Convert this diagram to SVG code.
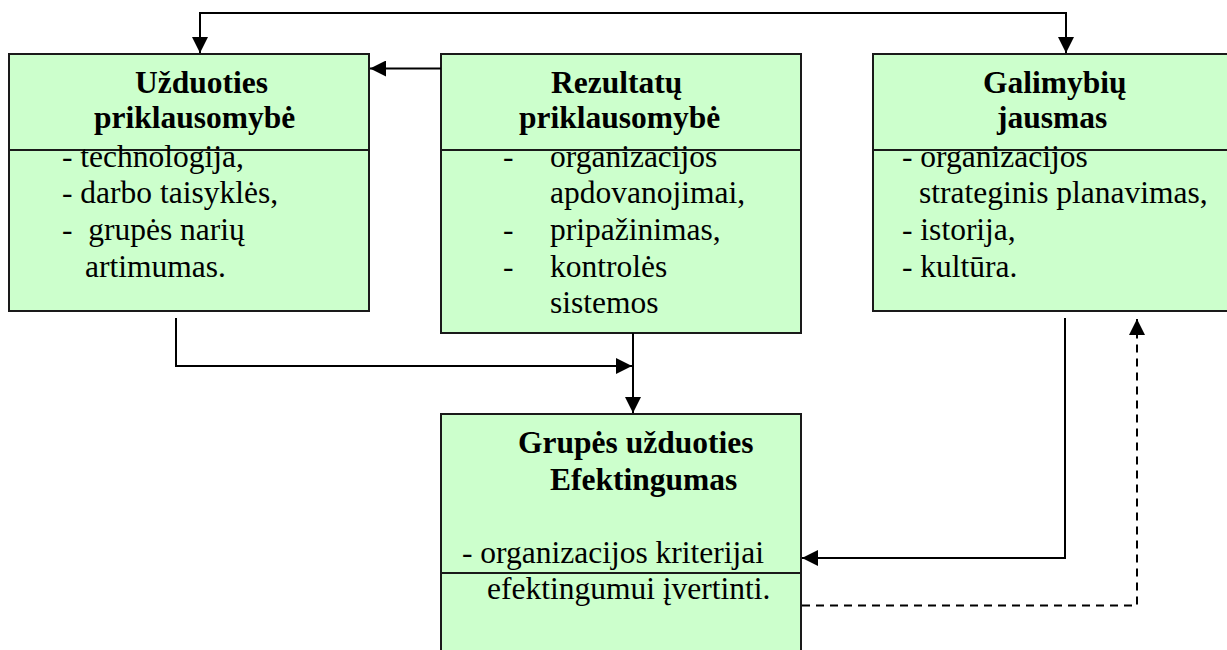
<svg xmlns="http://www.w3.org/2000/svg" width="1227" height="650" viewBox="0 0 1227 650">
<defs>
<style>
.box{fill:#ccffcc;stroke:#1a1a1a;stroke-width:2}
.div{stroke:#1a1a1a;stroke-width:2}
.t{font-family:"Liberation Serif","Times New Roman",serif;font-size:31.5px;font-weight:bold;fill:#000}
.b{font-family:"Liberation Serif","Times New Roman",serif;font-size:31.5px;fill:#000}
.c{fill:none;stroke:#000;stroke-width:2}
.d{fill:none;stroke:#000;stroke-width:2;stroke-dasharray:8,6}
</style>
<marker id="ah" viewBox="0 0 16 16" refX="16" refY="8" markerWidth="16" markerHeight="16" markerUnits="userSpaceOnUse" orient="auto-start-reverse">
<path d="M0,0 L16,8 L0,16 Z" fill="#000"/>
</marker>
</defs>
<rect width="1227" height="650" fill="#fff"/>
<g id="node-uzduoties">
<rect class="box" x="9" y="54" width="360" height="257"/>
<line class="div" x1="9" y1="150" x2="369" y2="150"/>
<text class="t" x="135" y="93">Užduoties</text>
<text class="t" x="94" y="128">priklausomybė</text>
<text class="b" x="62" y="166.5">- technologija,</text>
<text class="b" x="62" y="203">- darbo taisyklės,</text>
<text class="b" x="62" y="240" xml:space="preserve">-  grupės narių</text>
<text class="b" x="85" y="277">artimumas.</text>
</g>
<g id="node-rezultatu">
<rect class="box" x="441" y="54" width="360" height="279"/>
<line class="div" x1="441" y1="150" x2="801" y2="150"/>
<text class="t" x="551" y="93">Rezultatų</text>
<text class="t" x="519" y="128">priklausomybė</text>
<text class="b" x="503" y="166.5">-</text>
<text class="b" x="550" y="166.5">organizacijos</text>
<text class="b" x="550" y="203">apdovanojimai,</text>
<text class="b" x="503" y="240">-</text>
<text class="b" x="550" y="240">pripažinimas,</text>
<text class="b" x="503" y="276.5">-</text>
<text class="b" x="550" y="276.5">kontrolės</text>
<text class="b" x="550" y="313">sistemos</text>
</g>
<g id="node-galimybiu">
<rect class="box" x="873" y="54" width="360" height="257"/>
<line class="div" x1="873" y1="150" x2="1233" y2="150"/>
<text class="t" x="983" y="93">Galimybių</text>
<text class="t" x="997" y="128">jausmas</text>
<text class="b" x="902" y="166.5">- organizacijos</text>
<text class="b" x="919" y="203">strateginis planavimas,</text>
<text class="b" x="902" y="240">- istorija,</text>
<text class="b" x="902" y="276.5">- kultūra.</text>
</g>
<g id="node-efektingumas">
<rect class="box" x="441" y="414" width="360" height="250"/>
<line class="div" x1="441" y1="573" x2="801" y2="573"/>
<text class="t" x="518" y="453">Grupės užduoties</text>
<text class="t" x="550" y="490">Efektingumas</text>
<text class="b" x="462" y="563">- organizacijos kriterijai</text>
<text class="b" x="487" y="599">efektingumui įvertinti.</text>
</g>
<g id="connectors">
<polyline class="c" points="200,53 200,13 1066,13 1066,53" marker-start="url(#ah)" marker-end="url(#ah)"/>
<line class="c" x1="441" y1="68.5" x2="370" y2="68.5" marker-end="url(#ah)"/>
<polyline class="c" points="176,318 176,366 632,366" marker-end="url(#ah)"/>
<line class="c" x1="633" y1="333" x2="633" y2="413" marker-end="url(#ah)"/>
<polyline class="c" points="1065,318 1065,558 802,558" marker-end="url(#ah)"/>
<polyline class="d" points="802,605.5 1137,605.5 1137,319" marker-end="url(#ah)"/>
</g>
</svg>
